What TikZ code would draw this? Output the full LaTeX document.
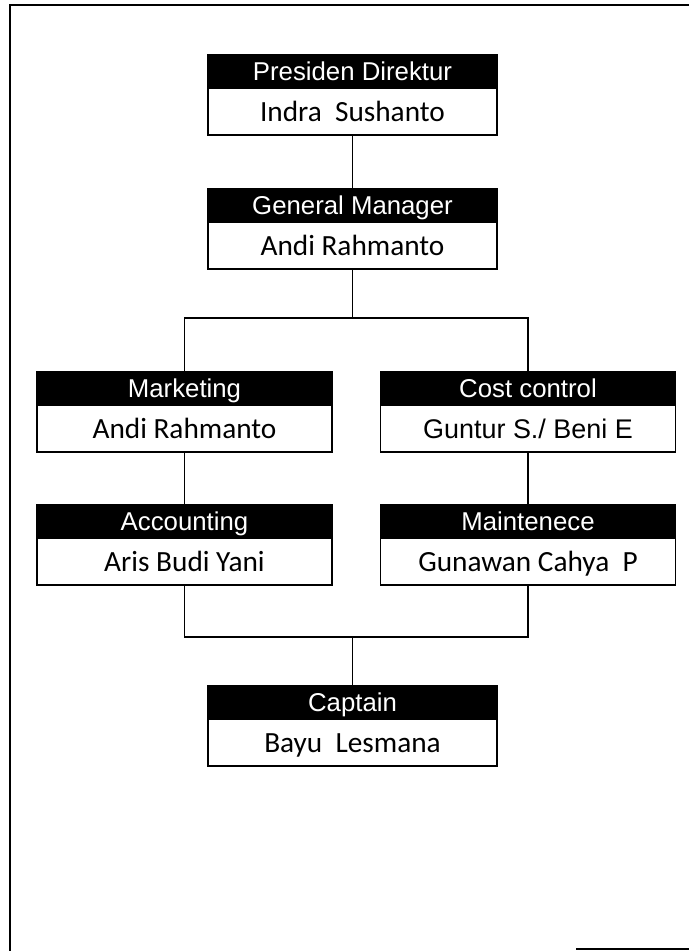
\documentclass[tikz,border=0pt]{standalone}
\usepackage{fontspec}
\setmainfont{Carlito}
\newfontfamily\headfont{Liberation Sans}
\usetikzlibrary{positioning}

\tikzset{
  headbox/.style={draw=black, fill=black, text=white, line width=1.5pt, inner sep=0pt, outer sep=0pt,
    minimum height=0.99cm, text height=0.66cm, text depth=0.1cm, font=\headfont\fontsize{22}{22}\selectfont},
  namebox/.style={draw=black, fill=white, line width=1.5pt, inner sep=0pt, outer sep=0pt,
    minimum height=1.41cm, text height=0.64cm, text depth=0.06cm, font=\fontsize{25}{25}\selectfont},
  link/.style={line width=1.5pt}
}

\begin{document}
\begin{tikzpicture}[x=0.03cm, y=-0.03cm]
  \useasboundingbox (0,0) rectangle (689,951);
  % page frame
  \draw[line width=1.5pt] (689,5) -- (10,5) -- (10,951);
  \draw[line width=1pt] (576,949) -- (689,949);

  % Presiden Direktur
  \node[headbox, minimum width=8.67cm, anchor=north] (pd-h) at (352.5,55) {Presiden Direktur};
  \node[namebox, minimum width=8.67cm, below=0pt of pd-h] (pd) {Indra\ \ Sushanto};

  % General Manager
  \node[headbox, minimum width=8.67cm, anchor=north] (gm-h) at (352.5,189) {General Manager};
  \node[namebox, minimum width=8.67cm, below=0pt of gm-h] (gm) {Andi Rahmanto};

  % Marketing
  \node[headbox, minimum width=8.85cm, anchor=north] (mkt-h) at (184.5,372) {Marketing};
  \node[namebox, minimum width=8.85cm, below=0pt of mkt-h] (mkt) {Andi Rahmanto};

  % Cost control
  \node[headbox, minimum width=8.85cm, anchor=north] (cc-h) at (528,372) {Cost control};
  \node[namebox, minimum width=8.85cm, below=0pt of cc-h, font=\headfont\fontsize{23}{23}\selectfont] (cc) {Guntur S./ Beni E};

  % Accounting
  \node[headbox, minimum width=8.85cm, anchor=north] (acc-h) at (184.5,505) {Accounting};
  \node[namebox, minimum width=8.85cm, below=0pt of acc-h] (acc) {Aris Budi Yani};

  % Maintenece
  \node[headbox, minimum width=8.85cm, anchor=north] (mt-h) at (528,505) {Maintenece};
  \node[namebox, minimum width=8.85cm, below=0pt of mt-h] (mt) {Gunawan Cahya\ \ P};

  % Captain
  \node[headbox, minimum width=8.67cm, anchor=north] (cap-h) at (352.5,686) {Captain};
  \node[namebox, minimum width=8.67cm, below=0pt of cap-h] (cap) {Bayu\ \ Lesmana};

  % connectors
  \coordinate (split-top) at (352.5,318);
  \coordinate (split-bot) at (352.5,637);
  \draw[link] (pd.south) -- (gm-h.north);
  \draw[link] (gm.south) -- (split-top);
  \draw[link] (mkt-h.north) |- (split-top) -| (cc-h.north);
  \draw[link] (mkt.south) -- (acc-h.north);
  \draw[link] (cc.south) -- (mt-h.north);
  \draw[link] (acc.south) |- (split-bot) -| (mt.south);
  \draw[link] (split-bot) -- (cap-h.north);
\end{tikzpicture}
\end{document}
